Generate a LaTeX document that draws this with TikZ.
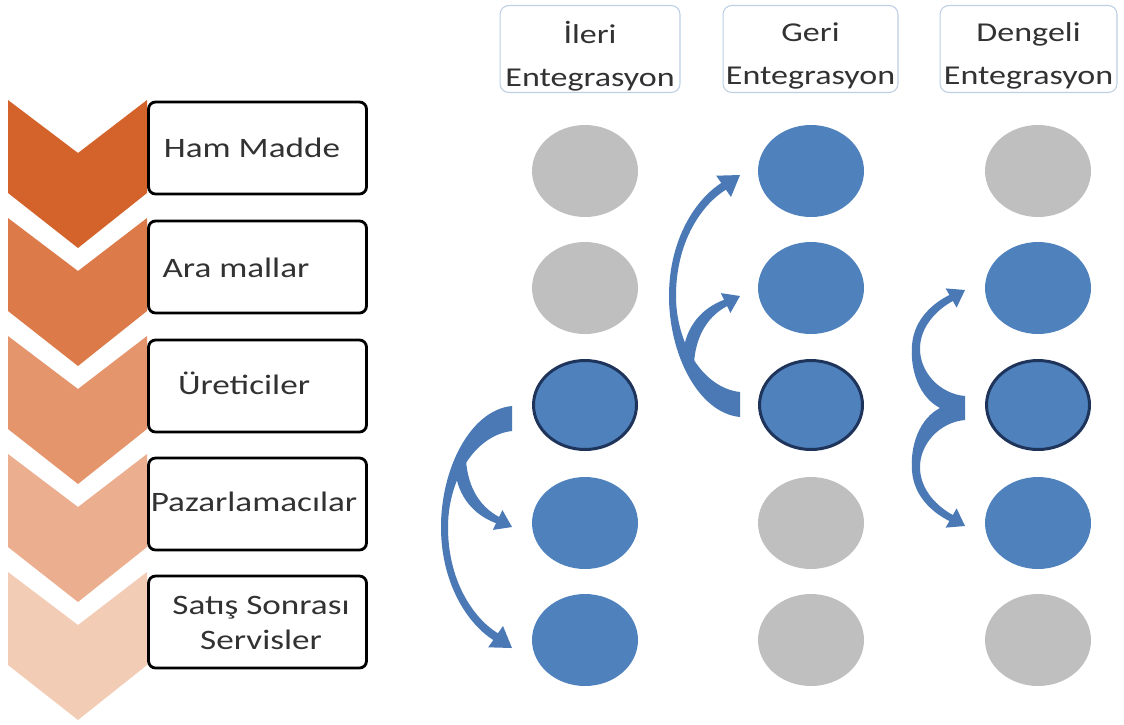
\documentclass[tikz,border=0pt]{standalone}
\usepackage{fontspec}
\setmainfont[FakeStretch=1.25]{Carlito}
\usetikzlibrary{shapes.geometric}

\definecolor{chevA}{RGB}{211,99,43}
\definecolor{chevB}{RGB}{220,123,73}
\definecolor{chevC}{RGB}{228,149,108}
\definecolor{chevD}{RGB}{235,175,144}
\definecolor{chevE}{RGB}{243,204,182}
\definecolor{textgray}{RGB}{50,50,50}
\definecolor{headline}{RGB}{188,207,228}
\definecolor{dotgray}{RGB}{191,191,191}
\definecolor{dotblue}{RGB}{79,129,189}
\definecolor{firmline}{RGB}{30,52,90}
\definecolor{arrowblue}{RGB}{74,121,182}

% tapered curved arrows, drawn in pixel coordinates
\newcommand{\longbend}{%
  \fill[arrowblue] (512,406) .. controls (470,410) and (440,470) .. (441,530)
    .. controls (442,585) and (468,624) .. (493.3,640) -- (488.2,647.3) -- (512,648)
    -- (503,626) -- (497.9,633.3) .. controls (476,620) and (449,585) .. (448,530)
    .. controls (447,480) and (475,435) .. (512,431) -- cycle;}
\newcommand{\shortbend}{%
  \fill[arrowblue] (455,470) .. controls (458,497) and (474,515) .. (496.1,523.2)
    -- (492.8,529.9) -- (512,527) -- (502.4,510.1) -- (499.1,516.9)
    .. controls (482,508) and (468,490) .. (466,460) -- cycle;}
\newcommand{\sidebend}{%
  \fill[arrowblue] (965,408) -- (942,409) .. controls (918,398) and (910,368) .. (912,345)
    .. controls (914,318) and (935,302) .. (949.4,295) -- (945.6,288.4) -- (965,290)
    -- (956.6,307.6) -- (952.9,301) .. controls (938,309) and (921,325) .. (920,347)
    .. controls (919,372) and (940,394) .. (965,396) -- cycle;}

\tikzset{
  stagebox/.style={draw=black, line width=1.6pt, rounded corners=4pt, fill=white,
    minimum width=4.36cm, minimum height=1.84cm, inner sep=0pt},
  stagetext/.style={text=textgray, font=\fontsize{16}{19.5}\selectfont, align=center, inner sep=0pt},
  headbox/.style={draw=headline, line width=0.6pt, rounded corners=5pt, fill=white,
    minimum height=1.74cm, inner sep=0pt},
  headtext/.style={text=textgray, font=\fontsize{15.5}{24.5}\selectfont, align=center, inner sep=0pt},
  graydot/.style={ellipse, fill=dotgray, minimum width=2.12cm, minimum height=1.84cm, inner sep=0pt},
  bluedot/.style={graydot, fill=dotblue},
  firmdot/.style={bluedot, draw=firmline, line width=1.7pt, minimum width=2.06cm, minimum height=1.78cm}
}

\begin{document}
\begin{tikzpicture}[x=0.02cm, y=-0.02cm]
        \useasboundingbox (0,0) rectangle (1124,724);

        % value chain
        \foreach \t/\c in {100/chevA, 218/chevB, 336/chevC, 454/chevD, 572/chevE}
            \fill[\c] (8,\t) -- (78,\t+53) -- (147,\t) -- (147,\t+93) -- (78,\t+148) -- (8,\t+93) -- cycle;

        \node[stagebox] (s1) at (257.5,148) {};
        \node[stagebox] (s2) at (257.5,267) {};
        \node[stagebox] (s3) at (257.5,386) {};
        \node[stagebox] (s4) at (257.5,504) {};
        \node[stagebox] (s5) at (257.5,622) {};

        \node[stagetext] (t1) at (252,148) {Ham Madde};
        \node[stagetext] (t2) at (236,268) {Ara mallar};
        \node[stagetext] (t3) at (244,383) {Üreticiler};
        \node[stagetext] (t4) at (254,502) {Pazarlamacılar};
        \node[stagetext] (t5) at (261,623) {Satış Sonrası\\Servisler};

        % column headers
        \node[headbox, minimum width=3.6cm] (h1) at (590,49) {};
        \node[headbox, minimum width=3.5cm] (h2) at (810.5,49) {};
        \node[headbox, minimum width=3.54cm] (h3) at (1028.5,49) {};
        \node[headtext] (h1t) at (590,56) {İleri\\Entegrasyon};
        \node[headtext] (h2t) at (810.5,56) {Geri\\Entegrasyon};
        \node[headtext] (h3t) at (1028.5,56) {Dengeli\\Entegrasyon};

        % ileri
        \node[graydot] (a1) at (585,171) {};
        \node[graydot] (a2) at (585,288) {};
        \node[firmdot] (a3) at (585,405) {};
        \node[bluedot] (a4) at (585,523) {};
        \node[bluedot] (a5) at (585,640) {};

        % geri
        \node[bluedot] (b1) at (811,171) {};
        \node[bluedot] (b2) at (811,288) {};
        \node[firmdot] (b3) at (811,405) {};
        \node[graydot] (b4) at (811,523) {};
        \node[graydot] (b5) at (811,640) {};

        % dengeli
        \node[graydot] (c1) at (1038,171) {};
        \node[bluedot] (c2) at (1038,288) {};
        \node[firmdot] (c3) at (1038,405) {};
        \node[bluedot] (c4) at (1038,523) {};
        \node[graydot] (c5) at (1038,640) {};

        % arrows
        \longbend
        \shortbend
        \begin{scope}[shift={(228,823)}, yscale=-1]
            \longbend
            \shortbend
        \end{scope}
        \sidebend
        \begin{scope}[shift={(0,816)}, yscale=-1]
            \sidebend
        \end{scope}

    \end{tikzpicture}
\end{document}
